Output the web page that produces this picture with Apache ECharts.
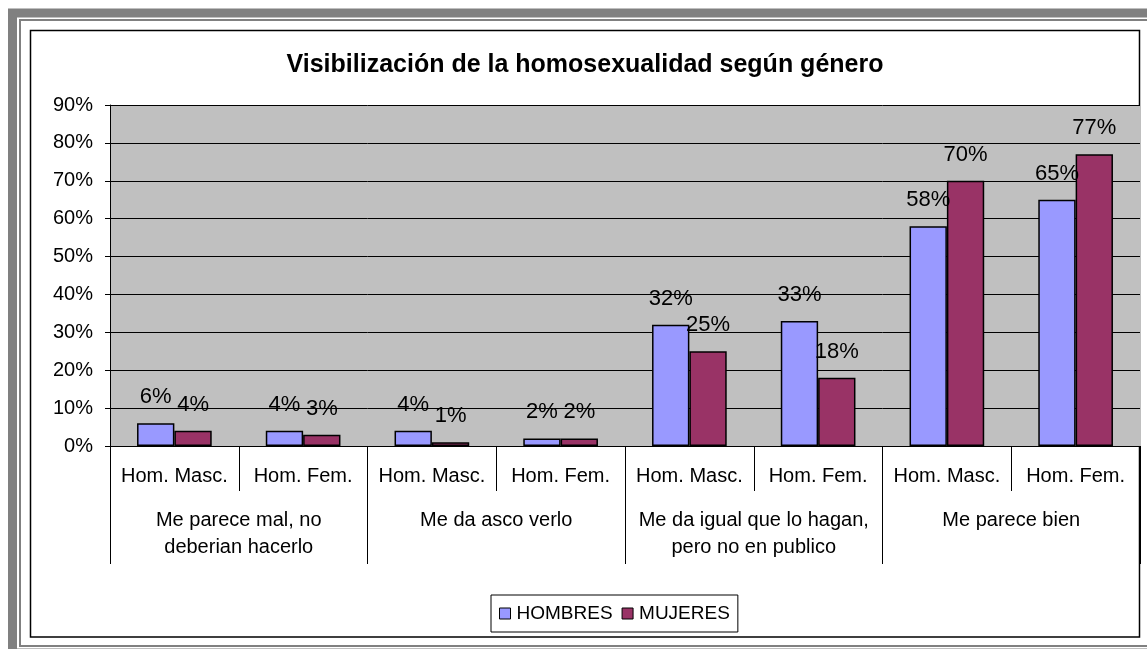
<!DOCTYPE html>
<html>
<head>
<meta charset="utf-8">
<script src="https://cdn.jsdelivr.net/npm/echarts@6/dist/echarts.min.js"></script>
<style>
  html, body { margin: 0; padding: 0; background: #fff; }
  #myChart { width: 1147px; height: 649px; }
</style>
</head>
<body>
<div id="myChart"></div>
<script>
// datos
var grupos = ['Me parece mal, no\ndeberian hacerlo', 'Me da asco verlo', 'Me da igual que lo hagan,\npero no en publico', 'Me parece bien'];
var subgrupos = ['Hom. Masc.', 'Hom. Fem.', 'Hom. Masc.', 'Hom. Fem.', 'Hom. Masc.', 'Hom. Fem.', 'Hom. Masc.', 'Hom. Fem.'];
var hombres = [6, 4, 4, 2, 32, 33, 58, 65];
var mujeres = [4, 3, 1, 2, 25, 18, 70, 77];
var yTicks = [0, 10, 20, 30, 40, 50, 60, 70, 80, 90];

var fuente = '"Liberation Sans", Arial, sans-serif';
var myChart = echarts.init(document.getElementById('myChart'));

myChart.setOption({
  textStyle: { fontFamily: fuente, color: '#000' },
  animation: false,
  title: {
    text: 'Visibilización de la homosexualidad según género',
    left: 580,
    textAlign: 'center',
    top: 48,
    textStyle: { fontFamily: fuente, fontSize: 25, fontWeight: 'bold', color: '#000' }
  },
  graphic: [
    { type: 'rect', z: -10, silent: true, shape: { x: 12.5, y: 13, width: 1200, height: 640 },
      style: { fill: 'none', stroke: '#808080', lineWidth: 9 } },
    { type: 'rect', z: -10, silent: true, shape: { x: 20, y: 20, width: 1200, height: 626 },
      style: { fill: 'none', stroke: '#808080', lineWidth: 2 } },
    { type: 'rect', z: -10, silent: true, shape: { x: 30.5, y: 30.5, width: 1109, height: 606.5 },
      style: { fill: 'none', stroke: '#000', lineWidth: 1.5 } }
  ],
  legend: {
    left: 491,
    top: 595,
    data: ['HOMBRES', 'MUJERES'],
    icon: 'rect',
    itemWidth: 11,
    itemHeight: 11,
    itemGap: 9,
    padding: [9, 8],
    borderColor: '#000',
    borderWidth: 1,
    itemStyle: { borderColor: '#000', borderWidth: 1 },
    textStyle: { fontFamily: fuente, fontSize: 19, color: '#000', padding: [0, 0, 0, 1] }
  },
  grid: {
    left: 110,
    right: 7,
    top: 105,
    bottom: 203,
    show: true,
    backgroundColor: '#C0C0C0',
    borderWidth: 0
  },
  xAxis: [{
    type: 'category',
    data: subgrupos,
    position: 'bottom',
    axisLine: { lineStyle: { color: '#000', width: 1 } },
    axisTick: { show: true, interval: 0, length: 45, lineStyle: { color: '#000' } },
    axisLabel: { interval: 0, fontSize: 20, margin: 20, color: '#000', fontFamily: fuente }
  }, {
    type: 'category',
    data: grupos,
    position: 'bottom',
    axisLine: { show: false },
    axisTick: { show: true, interval: 0, length: 118, lineStyle: { color: '#000' } },
    axisLabel: { interval: 0, fontSize: 20, lineHeight: 27, margin: 61, color: '#000', fontFamily: fuente, verticalAlign: 'top' }
  }],
  yAxis: {
    type: 'value',
    min: 0,
    max: yTicks[yTicks.length - 1],
    interval: 10,
    axisLine: { show: true, lineStyle: { color: '#000' } },
    axisTick: { show: true, length: 5, lineStyle: { color: '#000' } },
    axisLabel: { fontSize: 20, margin: 17, color: '#000', fontFamily: fuente, formatter: '{value}%' },
    splitLine: { lineStyle: { color: '#000', width: 1 } }
  },
  series: [{
    name: 'HOMBRES',
    type: 'bar',
    data: hombres,
    barWidth: '29%',
    barGap: '0%',
    itemStyle: { color: '#9999FF', borderColor: '#000', borderWidth: 1.5 },
    label: { show: true, position: 'top', distance: 15, fontSize: 22, color: '#000', fontFamily: fuente, formatter: '{c}%' }
  }, {
    name: 'MUJERES',
    type: 'bar',
    data: mujeres,
    barWidth: '29%',
    itemStyle: { color: '#993366', borderColor: '#000', borderWidth: 1.5 },
    label: { show: true, position: 'top', distance: 15, fontSize: 22, color: '#000', fontFamily: fuente, formatter: '{c}%' }
  }]
});
</script>
</body>
</html>
